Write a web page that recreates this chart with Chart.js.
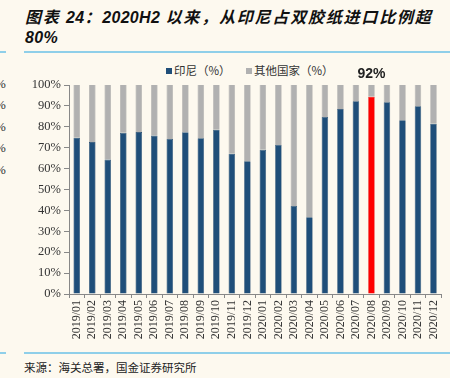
<!DOCTYPE html>
<html>
<head>
<meta charset="utf-8">
<script src="https://cdn.jsdelivr.net/npm/chart.js@4/dist/chart.umd.min.js"></script>
<style>
    body { margin: 0; background: #fdf9ef; }
    #page { position: relative; width: 450px; height: 378px; overflow: hidden; background: #fdf9ef; }
    .title { position: absolute; left: 25px; top: 7px; font-family: "Noto Sans CJK SC", sans-serif; font-weight: bold; font-style: italic; font-size: 16px; line-height: 19px; color: #111; white-space: nowrap; letter-spacing: 1.8px; }
    .title .num { font-family: "Liberation Sans", Arial, sans-serif; letter-spacing: 0.3px; }
    .rule { position: absolute; height: 2px; background: #8fcfe9; }
    .legend { position: absolute; top: 62px; font-family: "Noto Sans CJK SC", sans-serif; font-size: 11.5px; color: #333; white-space: nowrap; }
    .legend i { display: inline-block; width: 6px; height: 6px; margin-right: 2px; vertical-align: 1px; }
    .source { position: absolute; left: 24px; top: 359px; font-family: "Noto Sans CJK SC", sans-serif; font-size: 11.5px; color: #222; }
    .frag { position: absolute; left: -5px; font-family: "Liberation Serif", serif; font-size: 13px; color: #333; }
    canvas { position: absolute; left: 0; top: 56px; }
</style>
</head>
<body>
<div id="page">
    <div class="title">图表 <span class="num">24</span>：<span class="num">2020H2</span> 以来，从印尼占双胶纸进口比例超<br><span class="num">80%</span></div>
    <div class="rule" style="left:0;width:6px;top:51px"></div>
    <div class="rule" style="left:24px;width:430px;top:51px"></div>
    <div class="frag" style="top:76px">%</div>
    <div class="frag" style="top:97px">%</div>
    <div class="frag" style="top:119px">%</div>
    <div class="frag" style="top:140px">%</div>
    <div class="frag" style="top:162px">%</div>
    <div class="legend" style="left:166px"><i style="background:#1f4e79"></i>印尼（%）</div>
    <div class="legend" style="left:246px"><i style="background:#b1b1b1"></i>其他国家（%）</div>
    <canvas id="chart" width="450" height="294"></canvas>
    <div class="rule" style="left:0;width:6px;top:352px"></div>
    <div class="rule" style="left:24px;width:430px;top:352px"></div>
    <div class="source">来源：海关总署，国金证券研究所</div>
</div>
<script>
// Datos del gráfico
const months = [
    '2019/01', '2019/02', '2019/03', '2019/04', '2019/05', '2019/06',
    '2019/07', '2019/08', '2019/09', '2019/10', '2019/11', '2019/12',
    '2020/01', '2020/02', '2020/03', '2020/04', '2020/05', '2020/06',
    '2020/07', '2020/08', '2020/09', '2020/10', '2020/11', '2020/12'
];
const indonesia = [
    74.8, 72.7, 64.3, 77.1, 77.5, 75.8, 74.2, 77.4, 74.5, 78.6, 67.1, 63.5,
    69.0, 71.3, 42.1, 36.7, 84.7, 88.5, 92.2, 94.4, 91.7, 83.1, 89.8, 81.5
];
const others = indonesia.map(v => 100 - v);
const yTicks = [0, 10, 20, 30, 40, 50, 60, 70, 80, 90, 100];
const highlightMonth = '2020/08';
const highlightLabel = '92%';

const BLUE = '#1f4e79';
const GRAY = '#b1b1b1';
const RED = '#ff0000';

// Etiqueta sobre la barra destacada
const highlightPlugin = {
    id: 'highlightLabel',
    afterDatasetsDraw(chart) {
        const idx = months.indexOf(highlightMonth);
        const x = chart.scales.x.getPixelForValue(idx);
        const y = chart.scales.y.getPixelForValue(100);
        const ctx = chart.ctx;
        ctx.save();
        ctx.font = 'bold 14px "Liberation Sans", Arial, sans-serif';
        ctx.fillStyle = '#222';
        ctx.textAlign = 'center';
        ctx.textBaseline = 'bottom';
        ctx.fillText(highlightLabel, x, y - 4);
        ctx.restore();
    }
};

new Chart(document.getElementById('chart'), {
    type: 'bar',
    data: {
        labels: months,
        datasets: [
            {
                label: '印尼（%）',
                data: indonesia,
                backgroundColor: months.map(m => m === highlightMonth ? RED : BLUE),
                borderColor: months.map(m => m === highlightMonth ? '#e00000' : '#1a4268'),
                borderWidth: { left: 0.6, right: 0.6, top: 0.6, bottom: 0 },
                borderSkipped: false
            },
            {
                label: '其他国家（%）',
                data: others,
                backgroundColor: GRAY,
                borderColor: '#a2a2a2',
                borderWidth: { left: 0.6, right: 0.6, top: 0, bottom: 0 },
                borderSkipped: false
            }
        ]
    },
    options: {
        responsive: false,
        animation: false,
        layout: { padding: { top: 29, right: 6, left: 0, bottom: 0 } },
        datasets: { bar: { categoryPercentage: 1, barPercentage: 0.42 } },
        plugins: {
            legend: { display: false },
            tooltip: { enabled: false }
        },
        scales: {
            x: {
                stacked: true,
                afterFit: s => { s.height = 56; },
                grid: { drawOnChartArea: false, drawTicks: true, tickLength: 4, color: '#888' },
                border: { color: '#888' },
                ticks: {
                    minRotation: 90, maxRotation: 90, autoSkip: false, padding: 2,
                    color: '#333',
                    font: { family: '"Liberation Serif", serif', size: 12 }
                }
            },
            y: {
                stacked: true,
                min: 0, max: 100,
                afterFit: s => { s.width = 69; },
                afterBuildTicks: s => { s.ticks = yTicks.map(v => ({ value: v })); },
                grid: { drawOnChartArea: false, drawTicks: true, tickLength: 5, color: '#888' },
                border: { color: '#888' },
                ticks: {
                    padding: 3,
                    color: '#333',
                    font: { family: '"Liberation Serif", serif', size: 12.5 },
                    callback: v => v + '%'
                }
            }
        }
    },
    plugins: [highlightPlugin]
});
</script>
</body>
</html>
